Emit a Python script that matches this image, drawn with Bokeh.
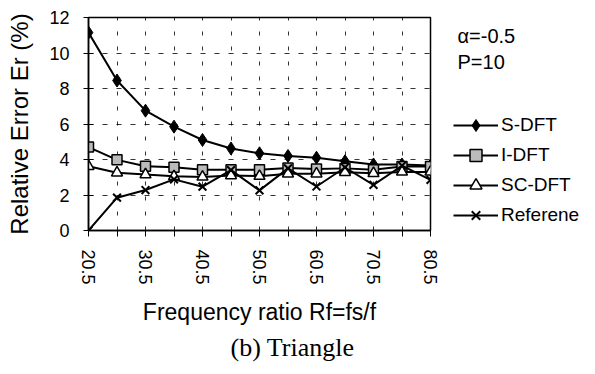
from bokeh.plotting import figure
from bokeh.models import FixedTicker, Legend, LegendItem, Range1d, Title
from bokeh.layouts import row
from bokeh.core.properties import value
from bokeh.embed import file_html
from bokeh.resources import INLINE

# ---- data ----
ratio = [20.5, 25.5, 30.5, 35.5, 40.5, 45.5, 50.5, 55.5, 60.5, 65.5, 70.5, 75.5, 80.5]
s_dft = [11.15, 8.45, 6.75, 5.85, 5.1, 4.62, 4.35, 4.2, 4.1, 3.9, 3.72, 3.72, 3.66]
i_dft = [4.7, 3.98, 3.62, 3.56, 3.42, 3.42, 3.42, 3.52, 3.46, 3.5, 3.42, 3.6, 3.6]
sc_dft = [3.62, 3.25, 3.15, 3.05, 3.02, 3.1, 3.06, 3.2, 3.2, 3.28, 3.22, 3.3, 3.3]
ref = [0.0, 1.85, 2.28, 2.88, 2.47, 3.4, 2.26, 3.5, 2.48, 3.55, 2.57, 3.65, 2.85]
series_names = ["S-DFT", "I-DFT", "SC-DFT", "Referene"]
x_tick_labels = [20.5, 30.5, 40.5, 50.5, 60.5, 70.5, 80.5]
x_minor = [25.5, 35.5, 45.5, 55.5, 65.5, 75.5]
y_ticks = [0, 2, 4, 6, 8, 10, 12]
notes = ["α=-0.5", "P=10"]
caption = "(b)  Triangle"

FONT = "Liberation Sans"
H = 370
W1 = 445
W2 = 145
TOP, BOTTOM = 17, 230   # frame edges in page pixels

p = figure(width=W1, height=H, output_backend="svg", toolbar_location=None,
           x_range=Range1d(20.5, 80.5), y_range=Range1d(0, 12),
           min_border_left=88, min_border_right=W1 - 430, min_border_top=TOP,
           min_border_bottom=H - BOTTOM)
p.background_fill_color = "white"
p.border_fill_color = "white"
p.outline_line_color = "black"
p.outline_line_width = 1.5

# x axis
p.xaxis.ticker = FixedTicker(ticks=x_tick_labels, minor_ticks=x_minor)
p.xaxis.major_label_orientation = "vertical"
p.xaxis.major_label_text_font = FONT
p.xaxis.major_label_text_font_size = "18px"
p.xaxis.major_label_text_color = "black"
p.xaxis.major_label_standoff = 13
p.xaxis.major_tick_out = 6
p.xaxis.major_tick_in = 0
p.xaxis.minor_tick_out = 6
p.xaxis.minor_tick_in = 0
p.xaxis.axis_label = "Frequency ratio Rf=fs/f"
p.xaxis.axis_label_text_font = FONT
p.xaxis.axis_label_text_font_style = "normal"
p.xaxis.axis_label_text_font_size = "23px"
p.xaxis.axis_label_text_color = "black"
p.xaxis.axis_label_standoff = 11
p.xaxis.axis_line_width = 1.5

# y axis
p.yaxis.ticker = FixedTicker(ticks=y_ticks, minor_ticks=[])
p.yaxis.major_label_text_font = FONT
p.yaxis.major_label_text_font_size = "18px"
p.yaxis.major_label_text_color = "black"
p.yaxis.major_label_standoff = 14
p.yaxis.major_tick_out = 5
p.yaxis.major_tick_in = 5
p.yaxis.axis_label = "Relative Error Er (%)"
p.yaxis.axis_label_text_font = FONT
p.yaxis.axis_label_text_font_style = "normal"
p.yaxis.axis_label_text_font_size = "24px"
p.yaxis.axis_label_text_color = "black"
p.yaxis.axis_label_standoff = 13
p.yaxis.axis_line_width = 1.5

# grid
p.xgrid.ticker = FixedTicker(ticks=ratio)
p.xgrid.grid_line_color = "black"
p.xgrid.grid_line_dash = "4 11"
p.xgrid.grid_line_alpha = 0.8
p.ygrid.grid_line_color = "black"
p.ygrid.grid_line_dash = "5 9"
p.ygrid.grid_line_alpha = 0.8

# series
styles = [
    dict(marker="diamond", size=13, fill_color="black", line_width=1),
    dict(marker="square", size=10, fill_color="#bbbbbb", line_width=1.5),
    dict(marker="triangle", size=11, fill_color="white", line_width=1.5),
    dict(marker="x", size=11, fill_color=None, line_width=2),
]
for ys, st in zip([s_dft, i_dft, sc_dft, ref], styles):
    p.line(ratio, ys, line_color="black", line_width=2)
    p.scatter(ratio, ys, line_color="black", **st)

p.add_layout(Title(text=caption, align="left", offset=142, text_font="Liberation Serif",
                   text_font_size="26px", text_font_style="normal", text_color="black",
                   standoff=7), "below")

# ---- right side panel: notes + legend (page pixel coordinates) ----
p2 = figure(width=W2, height=H, output_backend="svg", toolbar_location=None,
            x_range=Range1d(W1, W1 + W2), y_range=Range1d(BOTTOM, TOP),
            x_axis_type=None, y_axis_type=None, min_border_left=0, min_border_right=0,
            min_border_top=TOP, min_border_bottom=H - BOTTOM)
p2.outline_line_color = None
p2.grid.visible = False
p2.background_fill_color = "white"
p2.border_fill_color = "white"

p2.text(x=[457, 457], y=[35, 61], text=notes, text_font=value(FONT),
        text_font_size="20px", text_baseline="middle", text_align="left",
        text_color="black")

nan = float("nan")
items = []
for name, st in zip(series_names, styles):
    lr = p2.line(x=[nan], y=[nan], line_color="black", line_width=2)
    mr = p2.scatter(x=[nan], y=[nan], line_color="black", **st)
    items.append(LegendItem(label=name, renderers=[lr, mr]))

legend = Legend(items=items, location=(453 - W1, 0), padding=0, margin=0, spacing=0,
                glyph_width=45, glyph_height=30, label_height=30, label_standoff=3,
                label_text_font=FONT, label_text_font_size="19px", label_text_color="black",
                border_line_color=None, background_fill_alpha=0)
p2.add_layout(legend, "center")

layout = row(p, p2)
open("out.html", "w").write(file_html(layout, INLINE))
